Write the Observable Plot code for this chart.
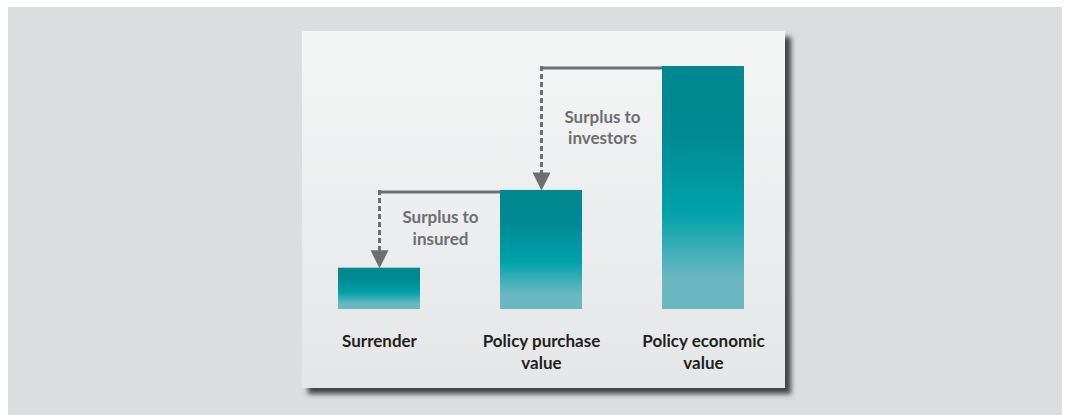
<!DOCTYPE html>
<html>
<head>
<meta charset="utf-8">
<script src="https://cdn.jsdelivr.net/npm/d3@7"></script>
<script src="https://cdn.jsdelivr.net/npm/@observablehq/plot@0.6"></script>
<style>
  html, body { margin: 0; padding: 0; background: #ffffff; }
  #stage { position: relative; width: 1070px; height: 415px; overflow: hidden; }
  #bg { position: absolute; left: 8px; top: 7px; width: 1054px; height: 408px; background: #dcdddf; }
  #panel { position: absolute; left: 302px; top: 31px; width: 483px; height: 357px;
           background: linear-gradient(#f4f5f5, #e5e6e7);
           box-shadow: 6px 6px 5px rgba(50, 50, 53, 0.9); }
  #chart { position: absolute; left: 0; top: 0; }
  #chart svg { background: transparent; }
</style>
</head>
<body>
<div id="stage">
  <div id="bg"></div>
  <div id="panel"></div>
  <div id="chart"></div>
</div>
<script>
// ---- data ----
const categories = ["Surrender", "Policy purchase\nvalue", "Policy economic\nvalue"];
const values = [17, 49, 100];
const surplusLabels = ["Surplus to\ninsured", "Surplus to\ninvestors"];

// ---- derived tables ----
const bars = categories.map((c, i) => ({category: c, value: values[i]}));
const arrows = surplusLabels.map((label, i) => ({
  from: categories[i + 1],
  to: categories[i],
  top: values[i + 1],
  bottom: values[i],
  mid: (values[i] + values[i + 1]) / 2,
  label
}));

const grey = "#6d6e71";
const font = "Lato, 'Open Sans', sans-serif";

// downward triangle whose tip sits on the anchor point
const downTriangle = {
  draw(ctx) {
    const hw = 9, h = 18;
    ctx.moveTo(-hw, -h);
    ctx.lineTo(hw, -h);
    ctx.lineTo(0, 0);
    ctx.closePath();
  }
};

const chart = Plot.plot({
  width: 1070,
  height: 415,
  margin: 0,
  style: {background: "transparent", fontFamily: font, overflow: "visible"},
  x: {domain: categories, range: [337, 744], paddingInner: 0.495, paddingOuter: 0, align: 0.5, axis: null},
  y: {domain: [0, 100], range: [309, 66], axis: null},
  marks: [
    // horizontal connectors (solid)
    Plot.link(arrows, {x1: "from", x2: "to", y1: "top", y2: "top", stroke: grey, strokeWidth: 3, strokeLinecap: "square", dy: 1.5}),
    // dashed verticals
    Plot.ruleX(arrows, {x: "to", y1: "top", y2: "bottom", stroke: grey, strokeWidth: 3, strokeDasharray: "5,3", insetBottom: 16}),
    // arrow heads
    Plot.dot(arrows, {x: "to", y: "bottom", symbol: downTriangle, r: 9, fill: grey, stroke: "none"}),
    // bars
    Plot.barY(bars, {x: "category", y: "value", fill: "url(#barGrad)"}),
    // surplus annotations
    Plot.text(arrows, {x: "to", y: "mid", text: "label", dx: 61, dy: -2, lineAnchor: "middle", lineHeight: 1.26,
      fill: grey, fontSize: 17, fontWeight: "bold", fontFamily: font}),
    // category labels
    Plot.text(bars, {x: "category", y: () => 0, text: "category", dy: 23, lineAnchor: "top", lineHeight: 1.24,
      fill: "#231f20", fontSize: 17, fontWeight: "bold", fontFamily: font})
  ]
});

// gradient definition for the bars
const defs = d3.select(chart).insert("defs", ":first-child");
const grad = defs.append("linearGradient").attr("id", "barGrad")
  .attr("x1", 0).attr("y1", 0).attr("x2", 0).attr("y2", 1);
[[0, "#00878f"], [0.28, "#008a93"], [0.6, "#00a2aa"], [0.88, "#6cb8c2"], [1, "#6cb8c2"]]
  .forEach(([o, c]) => grad.append("stop").attr("offset", o).attr("stop-color", c));

document.getElementById("chart").appendChild(chart);
</script>
</body>
</html>
